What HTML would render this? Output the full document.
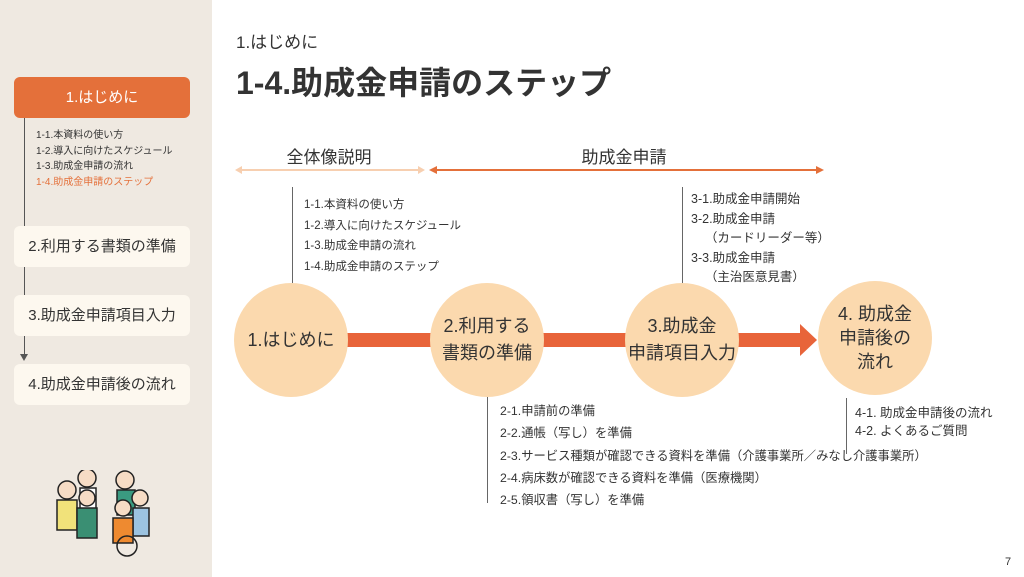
<!DOCTYPE html>
<html><head><meta charset="utf-8"><style>
body{margin:0;width:1024px;height:577px;position:relative;overflow:hidden;background:#fff;font-family:"Liberation Sans","Noto Sans CJK JP",sans-serif;color:#333}
div{position:absolute}
.side{left:0;top:0;width:212px;height:577px;background:#efe9e1}
.box{left:14px;width:176px;height:41px;background:#fdf8ef;border-radius:6px;font-size:15px;text-align:center;line-height:41px;color:#333}
.t{font-size:11.5px;white-space:nowrap;color:#333}
.c{width:114px;height:114px;border-radius:50%;background:#fbd9ae;display:flex;align-items:center;justify-content:center;text-align:center;font-size:18px;line-height:1.5;color:#333}
.vl{width:1px;background:#666}
</style></head><body>
<div class="side"></div>
<div class="vl" style="left:24px;top:118px;height:238px;background:#555"></div>
<div style="left:20px;top:354px;width:0;height:0;border-left:4px solid transparent;border-right:4px solid transparent;border-top:7px solid #555"></div>
<div class="box" style="top:77px;background:#e4703a;color:#fff">1.はじめに</div>
<div class="t" style="left:36px;top:128px;font-size:10px;line-height:15.5px">1-1.本資料の使い方<br>1-2.導入に向けたスケジュール<br>1-3.助成金申請の流れ<br><span style="color:#e4703a">1-4.助成金申請のステップ</span></div>
<div class="box" style="top:226px">2.利用する書類の準備</div>
<div class="box" style="top:295px">3.助成金申請項目入力</div>
<div class="box" style="top:364px">4.助成金申請後の流れ</div>
<div style="left:45px;top:470px;width:110px;height:90px;">
<svg width="110" height="90"><g stroke="#222" stroke-width="1.5">
<circle cx="22" cy="20" r="9" fill="#f6dcc5"/><rect x="12" y="30" width="20" height="30" fill="#f1e27a"/>
<circle cx="42" cy="8" r="9" fill="#f6dcc5"/><rect x="35" y="18" width="16" height="22" fill="#fff"/>
<circle cx="42" cy="28" r="8" fill="#f6dcc5"/><rect x="32" y="38" width="20" height="30" fill="#3a8f73"/>
<circle cx="80" cy="10" r="9" fill="#f6dcc5"/><rect x="72" y="20" width="18" height="25" fill="#3a9a80"/>
<circle cx="95" cy="28" r="8" fill="#f6dcc5"/><rect x="88" y="38" width="16" height="28" fill="#9cc3e0"/>
<circle cx="78" cy="38" r="8" fill="#f6dcc5"/><rect x="68" y="48" width="20" height="25" fill="#ee8a30"/>
<circle cx="82" cy="76" r="10" fill="none"/></g></svg></div>

<div style="left:236px;top:28px;font-size:17px;color:#333">1.はじめに</div>
<div style="left:236px;top:58px;font-size:32px;font-weight:bold;color:#333">1-4.助成金申請のステップ</div>

<div style="left:235px;top:143px;width:188px;text-align:center;font-size:17px">全体像説明</div>
<div style="left:238px;top:169px;width:182px;height:2px;background:#f7cfb0"></div>
<div style="left:235px;top:166px;border-top:4px solid transparent;border-bottom:4px solid transparent;border-right:7px solid #f7cfb0"></div>
<div style="left:418px;top:166px;border-top:4px solid transparent;border-bottom:4px solid transparent;border-left:7px solid #f7cfb0"></div>
<div style="left:430px;top:143px;width:388px;text-align:center;font-size:17px">助成金申請</div>
<div style="left:432px;top:169px;width:386px;height:2px;background:#e4703a"></div>
<div style="left:429px;top:166px;border-top:4px solid transparent;border-bottom:4px solid transparent;border-right:8px solid #e4703a"></div>
<div style="left:816px;top:166px;border-top:4px solid transparent;border-bottom:4px solid transparent;border-left:8px solid #e4703a"></div>

<div class="vl" style="left:292px;top:187px;height:96px"></div>
<div class="t" style="left:304px;top:195px;line-height:20.5px">1-1.本資料の使い方<br>1-2.導入に向けたスケジュール<br>1-3.助成金申請の流れ<br>1-4.助成金申請のステップ</div>
<div class="vl" style="left:682px;top:187px;height:96px"></div>
<div class="t" style="left:691px;top:190px;line-height:19.5px;font-size:12.5px">3-1.助成金申請開始<br>3-2.助成金申請<br>&nbsp;&nbsp;&nbsp;&nbsp;（カードリーダー等）<br>3-3.助成金申請<br>&nbsp;&nbsp;&nbsp;&nbsp;（主治医意見書）</div>

<div style="left:340px;top:333px;width:462px;height:14px;background:#e8643a"></div>
<div style="left:800px;top:324px;border-top:16px solid transparent;border-bottom:16px solid transparent;border-left:17px solid #e8643a"></div>

<div class="c" style="left:234px;top:283px">1.はじめに</div>
<div class="c" style="left:430px;top:283px">2.利用する<br>書類の準備</div>
<div class="c" style="left:625px;top:283px">3.助成金<br>申請項目入力</div>
<div class="c" style="left:818px;top:281px;line-height:1.35">4. 助成金<br>申請後の<br>流れ</div>

<div class="vl" style="left:487px;top:397px;height:106px"></div>
<div class="t" style="left:500px;top:400px;line-height:22.3px;font-size:12.3px">2-1.申請前の準備<br>2-2.通帳（写し）を準備<br>2-3.サービス種類が確認できる資料を準備（介護事業所／みなし介護事業所）<br>2-4.病床数が確認できる資料を準備（医療機関）<br>2-5.領収書（写し）を準備</div>
<div class="vl" style="left:846px;top:398px;height:56px"></div>
<div class="t" style="left:855px;top:404px;line-height:18px;font-size:12.5px">4-1. 助成金申請後の流れ<br>4-2. よくあるご質問</div>
<div style="left:1005px;top:556px;font-size:11px">7</div>
</body></html>
